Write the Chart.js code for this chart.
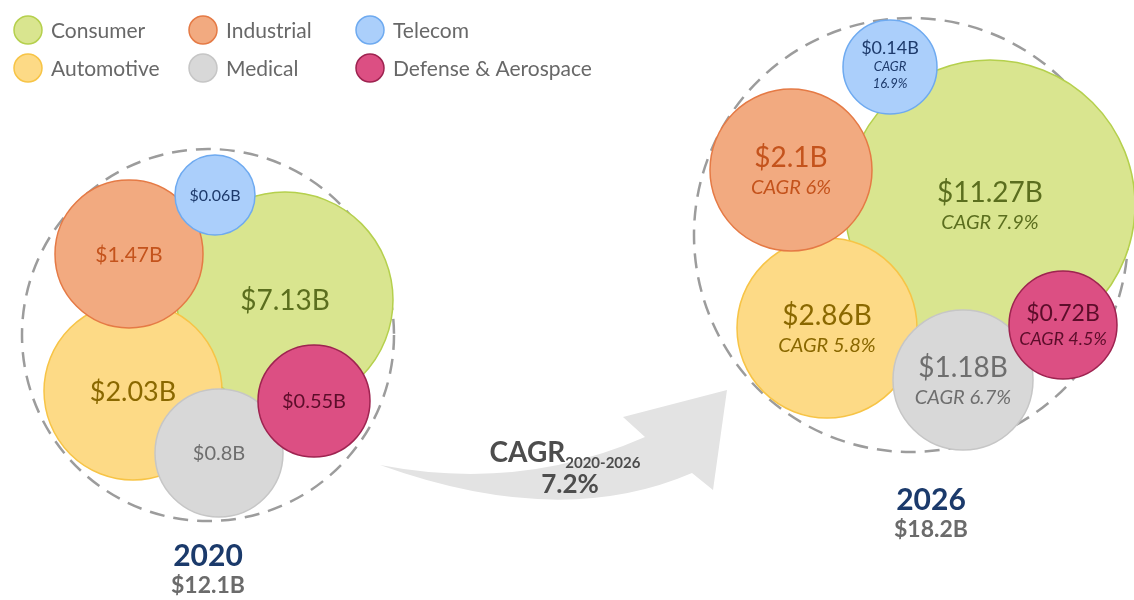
<!DOCTYPE html>
<html>
<head>
<meta charset="utf-8">
<script src="https://cdn.jsdelivr.net/npm/chart.js@4.4.1/dist/chart.umd.min.js"></script>
<style>
  html, body { margin: 0; padding: 0; background: #fff; }
  #wrap { position: relative; width: 1134px; height: 600px; }
</style>
</head>
<body>
<div id="wrap"><canvas id="marketChart" width="1134" height="600"></canvas></div>
<script>
// data
const categories = ['Consumer', 'Industrial', 'Telecom', 'Automotive', 'Medical', 'Defense & Aerospace'];
const years = ['2020', '2026'];
const value2020 = [7.13, 1.47, 0.06, 2.03, 0.8, 0.55];
const value2026 = [11.27, 2.1, 0.14, 2.86, 1.18, 0.72];
const cagr = [7.9, 6, 16.9, 5.8, 6.7, 4.5];
const totals = [12.1, 18.2];
const totalCagr = 7.2;

// packing layout (pixel units of the canvas)
const layout2020 = [
    { x: 285, y: 300, r: 108, fs: 28 },
    { x: 129, y: 254, r: 74, fs: 21 },
    { x: 215, y: 195, r: 40, fs: 16 },
    { x: 133, y: 391, r: 89, fs: 27 },
    { x: 219, y: 453, r: 64, fs: 20 },
    { x: 314, y: 401, r: 56, fs: 20 }
];
const layout2026 = [
    { x: 990, y: 205, r: 145, fs: 28, fs2: 20 },
    { x: 791, y: 170, r: 81, fs: 28, fs2: 20 },
    { x: 890, y: 67, r: 47, fs: 18, fs2: 13 },
    { x: 827, y: 328, r: 90, fs: 28, fs2: 20 },
    { x: 963, y: 380, r: 70, fs: 28, fs2: 20 },
    { x: 1063, y: 325, r: 54, fs: 23, fs2: 18 }
];
const groups = [
    { x: 208, y: 335, r: 186, labelX: 208, labelY: 556 },
    { x: 911, y: 235, r: 217, labelX: 931, labelY: 500 }
];

const fills = ['#d9e58f', '#f2aa80', '#abcffb', '#fdda86', '#d8d8d8', '#dc4f83'];
const borders = ['#b5d04d', '#e57a45', '#6eaaf0', '#f7c446', '#c6c6c6', '#9e2350'];
const textColors = ['#5b6e1e', '#c4531c', '#1d3a6b', '#8a6800', '#6e6e6e', '#5c0d2a'];
const drawOrder = [6, 4, 3, 5, 2, 1]; // lower = on top

const FONT = 'Lato, "Open Sans", sans-serif';

const datasets = categories.map((name, i) => ({
    label: name,
    data: [
        { x: layout2020[i].x, y: layout2020[i].y, r: layout2020[i].r, v: value2020[i] },
        { x: layout2026[i].x, y: layout2026[i].y, r: layout2026[i].r, v: value2026[i] }
    ],
    backgroundColor: fills[i],
    borderColor: borders[i],
    borderWidth: 1.5,
    hoverRadius: 0,
    order: drawOrder[i],
    clip: false
}));

const backdrop = {
    id: 'backdrop',
    beforeDatasetsDraw(chart) {
        const { ctx, scales: { x, y } } = chart;
        ctx.save();
        // growth arrow
        const px = (a, b) => [x.getPixelForValue(a), y.getPixelForValue(b)];
        ctx.fillStyle = '#e3e3e3';
        ctx.beginPath();
        ctx.moveTo(...px(380, 465));
        ctx.quadraticCurveTo(...px(520, 492), ...px(645, 437));
        ctx.lineTo(...px(623, 417));
        ctx.lineTo(...px(727, 390));
        ctx.lineTo(...px(713, 490));
        ctx.lineTo(...px(692, 473));
        ctx.quadraticCurveTo(...px(560, 530), ...px(380, 465));
        ctx.fill();
        // dashed group circles
        ctx.strokeStyle = '#9c9c9c';
        ctx.lineWidth = 2.5;
        ctx.setLineDash([15, 9]);
        groups.forEach(g => {
            const [cx, cy] = px(g.x, g.y);
            const rr = x.getPixelForValue(g.x + g.r) - cx;
            ctx.beginPath();
            ctx.arc(cx, cy, rr, 0, Math.PI * 2);
            ctx.stroke();
        });
        ctx.restore();
    },
    afterDatasetsDraw(chart) {
        const { ctx, scales: { x, y } } = chart;
        ctx.save();
        ctx.textAlign = 'center';
        ctx.textBaseline = 'middle';
        categories.forEach((name, i) => {
            const meta = chart.getDatasetMeta(i);
            // 2020: value only
            const p0 = meta.data[0];
            ctx.fillStyle = textColors[i];
            ctx.font = `${layout2020[i].fs}px ${FONT}`;
            ctx.fillText('$' + value2020[i] + 'B', p0.x, p0.y + 1);
            // 2026: value + CAGR
            const p1 = meta.data[1];
            const l = layout2026[i];
            const lines = [[`${l.fs}px ${FONT}`, '$' + value2026[i] + 'B', l.fs]];
            if (i === 2) {
                lines.push([`italic ${l.fs2}px ${FONT}`, 'CAGR', l.fs2]);
                lines.push([`italic ${l.fs2}px ${FONT}`, cagr[i] + '%', l.fs2]);
            } else {
                lines.push([`italic ${l.fs2}px ${FONT}`, 'CAGR ' + cagr[i] + '%', l.fs2]);
            }
            const total = lines.reduce((s, ln) => s + ln[2] * 1.25, 0);
            let cy = p1.y - total / 2 + (i === 2 ? -3 : 0);
            lines.forEach(ln => {
                ctx.font = ln[0];
                ctx.fillText(ln[1], p1.x, cy + ln[2] * 0.625);
                cy += ln[2] * 1.25;
            });
        });
        // year + totals
        groups.forEach((g, k) => {
            const cx = x.getPixelForValue(g.labelX);
            ctx.fillStyle = '#1b3a6b';
            ctx.font = `bold 30px ${FONT}`;
            ctx.fillText(years[k], cx, y.getPixelForValue(g.labelY));
            ctx.fillStyle = '#6b6b6b';
            ctx.font = `bold 23px ${FONT}`;
            ctx.fillText('$' + totals[k] + 'B', cx, y.getPixelForValue(g.labelY + 30));
        });
        // overall CAGR
        ctx.fillStyle = '#4d4d4d';
        ctx.textAlign = 'left';
        ctx.textBaseline = 'alphabetic';
        ctx.font = `bold 28px ${FONT}`;
        const cagrW = ctx.measureText('CAGR').width;
        ctx.font = `bold 15px ${FONT}`;
        const subW = ctx.measureText(years[0] + '-' + years[1]).width;
        const startX = x.getPixelForValue(565) - (cagrW + subW) / 2;
        ctx.font = `bold 28px ${FONT}`;
        ctx.fillText('CAGR', startX, y.getPixelForValue(462));
        ctx.font = `bold 15px ${FONT}`;
        ctx.fillText(years[0] + '-' + years[1], startX + cagrW, y.getPixelForValue(468));
        ctx.textAlign = 'center';
        ctx.font = `bold 26px ${FONT}`;
        ctx.fillText(totalCagr + '%', x.getPixelForValue(570), y.getPixelForValue(493));
        // legend, 3 per row
        ctx.textBaseline = 'middle';
        ctx.textAlign = 'left';
        ctx.font = `21px ${FONT}`;
        const colX = [28, 203, 370];
        const rowY = [30, 68];
        categories.forEach((name, n) => {
            const lx = colX[n % 3], ly = rowY[Math.floor(n / 3)];
            ctx.beginPath();
            ctx.arc(lx, ly, 14, 0, Math.PI * 2);
            ctx.fillStyle = fills[n];
            ctx.fill();
            ctx.lineWidth = 1.5;
            ctx.strokeStyle = borders[n];
            ctx.stroke();
            ctx.fillStyle = '#686868';
            ctx.fillText(name, lx + 23, ly + 1);
        });
        ctx.restore();
    }
};

new Chart(document.getElementById('marketChart').getContext('2d'), {
    type: 'bubble',
    data: { datasets },
    options: {
        responsive: false,
        animation: false,
        layout: { padding: 0, autoPadding: false },
        scales: {
            x: { type: 'linear', min: 0, max: 1134, display: false },
            y: { type: 'linear', min: 0, max: 600, reverse: true, display: false }
        },
        plugins: {
            legend: { display: false },
            tooltip: { enabled: false }
        }
    },
    plugins: [backdrop]
});
</script>
</body>
</html>
